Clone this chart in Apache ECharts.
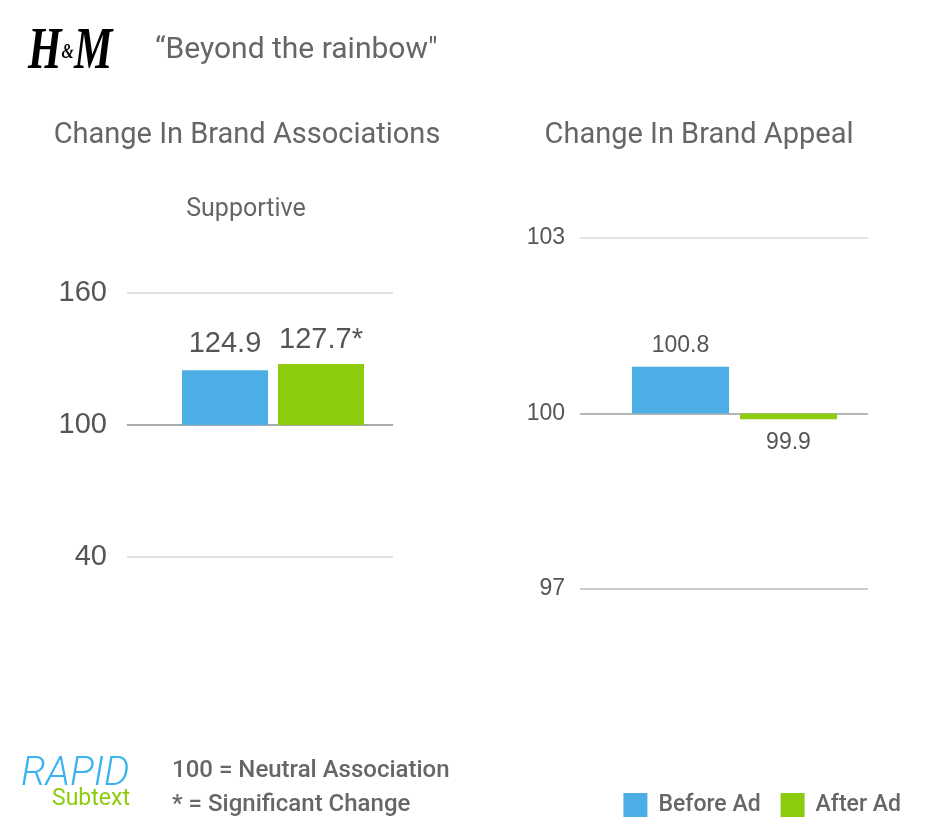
<!DOCTYPE html>
<html><head><meta charset="utf-8">
<script src="https://cdn.jsdelivr.net/npm/echarts@6/dist/echarts.min.js"></script>
<style>html,body{margin:0;padding:0;background:#fff}#c{width:930px;height:840px}</style>
</head><body><div id="c"></div>
<script>
// ---- data ----
const seriesNames = ["Before Ad", "After Ad"];
const assocCategory = ["Supportive"];
const assocValues = [124.9, 127.7];
const assocLabels = ["124.9", "127.7*"];
const assocTicks = [40, 100, 160];
const appealValues = [100.8, 99.9];
const appealLabels = ["100.8", "99.9"];
const appealTicks = [97, 100, 103];
const neutral = 100;

const BLUE = '#4BAEE4', GREEN = '#8DCB0F';
const colors = [BLUE, GREEN];
const chart = echarts.init(document.getElementById('c'), null, {renderer: 'canvas'});

function barSeries(values, labels, xi, yi, labelSize, distances) {
  const out = [];
  values.forEach((v, i) => {
    const base = Math.min(v, neutral), delta = Math.abs(v - neutral);
    const stack = 's' + xi + '_' + i;
    const bw = xi === 1 ? 86 : 97, gap = xi === 1 ? '11.6%' : '11.3%';
    out.push({
      type: 'bar', name: 'base' + xi + i, stack, xAxisIndex: xi, yAxisIndex: yi,
      data: [base], itemStyle: {color: 'transparent'}, silent: true, barWidth: bw, barGap: gap
    });
    out.push({
      type: 'bar', name: seriesNames[i], stack, xAxisIndex: xi, yAxisIndex: yi,
      data: [delta], itemStyle: {color: colors[i]}, barWidth: bw, barGap: gap,
      label: {
        show: true, position: v >= neutral ? 'top' : 'bottom', distance: distances[i],
        formatter: () => labels[i], fontFamily: 'Liberation Sans', fontSize: labelSize, color: '#555'
      }
    });
  });
  return out;
}

const option = {
  animation: false,
  backgroundColor: '#fff',
  grid: [
    {left: 127, width: 266, top: 293, height: 264},
    {left: 140, width: 266, top: 293, height: 264},
    {left: 580, width: 288, top: 238, height: 351},
    {left: 590.5, width: 288, top: 238, height: 351}
  ],
  xAxis: [
    {gridIndex: 0, type: 'category', data: assocCategory, show: false},
    {gridIndex: 1, type: 'category', data: assocCategory, show: false},
    {gridIndex: 2, type: 'category', data: ['Appeal'], show: false},
    {gridIndex: 3, type: 'category', data: ['Appeal'], show: false}
  ],
  yAxis: [
    {gridIndex: 0, type: 'value', min: assocTicks[0], max: assocTicks[2], interval: assocTicks[1] - assocTicks[0],
     axisLine: {show: false}, axisTick: {show: false},
     axisLabel: {fontFamily: 'Liberation Sans', fontSize: 29, color: '#555', margin: 20},
     splitLine: {lineStyle: {color: ['#e2e2e2', '#aaaaaa', '#e2e2e2'], width: 2}}},
    {gridIndex: 1, type: 'value', min: assocTicks[0], max: assocTicks[2], show: false, splitLine: {show: false}},
    {gridIndex: 2, type: 'value', min: appealTicks[0], max: appealTicks[2], interval: appealTicks[1] - appealTicks[0],
     axisLine: {show: false}, axisTick: {show: false},
     axisLabel: {fontFamily: 'Liberation Sans', fontSize: 23, color: '#555', margin: 15},
     splitLine: {lineStyle: {color: ['#cccccc', '#b5b5b5', '#e2e2e2'], width: 2}}},
    {gridIndex: 3, type: 'value', min: appealTicks[0], max: appealTicks[2], show: false, splitLine: {show: false}}
  ],
  legend: {
    data: seriesNames, right: 24, top: 788, itemWidth: 24, itemHeight: 24, itemGap: 20, icon: 'rect',
    textStyle: {fontFamily: 'Roboto', fontWeight: 500, fontSize: 23, color: '#666', padding: [0, 0, 0, 6]},
    selectedMode: false
  },
  series: [
    ...barSeries(assocValues, assocLabels, 1, 1, 29, [12, 10]),
    ...barSeries(appealValues, appealLabels, 3, 3, 23, [10, 12])
  ],
  graphic: [
    {type: 'text', x: 28, y: 22, scaleX: 0.72, style: {
      text: '{a|H}{b|&}{a|M}', fill: '#000',
      rich: {
        a: {fontFamily: 'Liberation Serif', fontStyle: 'italic', fontWeight: 'bold', fontSize: 60, fill: '#000'},
        b: {fontFamily: 'Liberation Serif', fontStyle: 'italic', fontWeight: 'bold', fontSize: 22, fill: '#000'}
      }}},
    {type: 'text', left: 155, top: 35, style: {text: '\u201cBeyond the rainbow"', fontFamily: 'Roboto', fontSize: 30, fill: '#666'}},
    {type: 'text', x: 247, y: 136, style: {text: 'Change In Brand Associations', fontFamily: 'Roboto', fontSize: 29, fill: '#666', align: 'center', verticalAlign: 'middle'}},
    {type: 'text', x: 699, y: 136, style: {text: 'Change In Brand Appeal', fontFamily: 'Roboto', fontSize: 29, fill: '#666', align: 'center', verticalAlign: 'middle'}},
    {type: 'text', x: 246, y: 210, style: {text: 'Supportive', fontFamily: 'Roboto', fontSize: 25, fill: '#666', align: 'center', verticalAlign: 'middle'}},
    {type: 'text', left: 21, top: 755, style: {text: 'RAPID', fontFamily: 'Roboto', fontStyle: 'italic', fontWeight: 300, fontSize: 40, fill: '#3AB2EF'}},
    {type: 'text', left: 52, top: 788, style: {text: 'Subtext', fontFamily: 'Roboto', fontSize: 23, fill: '#8DCB0F'}},
    {type: 'text', left: 172, top: 759, style: {text: '100 = Neutral Association', fontFamily: 'Roboto', fontWeight: 500, fontSize: 24, fill: '#666'}},
    {type: 'text', left: 172, top: 793, style: {text: '* = Significant Change', fontFamily: 'Roboto', fontWeight: 500, fontSize: 24, fill: '#666'}}
  ]
};
chart.setOption(option);
</script></body></html>
